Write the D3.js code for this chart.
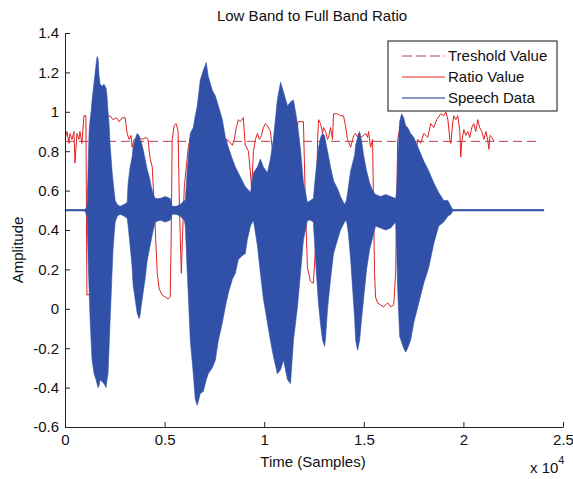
<!DOCTYPE html>
<html><head><meta charset="utf-8">
<script src="https://cdn.jsdelivr.net/npm/d3@7"></script>
<style>body{margin:0;background:#fff}svg text{font-family:"Liberation Sans",Arial,sans-serif}</style>
</head><body>
<svg id="c" width="573" height="479"></svg>
<script>
// ---- data ----
const titleText = "Low Band to Full Band Ratio";
const xLabel = "Time (Samples)";
const yLabel = "Amplitude";
const xTicks = [0, 5000, 10000, 15000, 20000, 25000];
const xTickLabels = ["0", "0.5", "1", "1.5", "2", "2.5"];
const yTicks = [-0.6, -0.4, -0.2, 0, 0.2, 0.4, 0.6, 0.8, 1.0, 1.2, 1.4];
const yTickLabels = ["-0.6", "-0.4", "-0.2", "0", "0.2", "0.4", "0.6", "0.8", "1", "1.2", "1.4"];
const legendNames = ["Treshold Value", "Ratio Value", "Speech Data"];

// speech envelope (sample index, upper, lower)
const speechT = [0,1000,1110,1160,1210,1260,1310,1360,1460,1560,1610,1660,1710,1760,1860,1960,2060,2110,2160,2210,2260,2310,2360,2410,2460,2520,2620,2770,2970,3120,3170,3270,3370,3420,3520,3620,3720,3770,3820,3920,4020,4120,4230,4330,4430,4530,4780,5030,5280,5380,5580,5790,5990,6040,6140,6290,6440,6540,6640,6790,6940,7090,7190,7390,7550,7700,7900,8050,8200,8400,8550,8700,8900,9050,9150,9310,9460,9660,9810,9960,10160,10310,10460,10660,10820,10970,11170,11320,11470,11670,11820,11970,12170,12320,12470,12520,12620,12730,12830,12930,13030,13080,13180,13330,13480,13680,13830,14030,14130,14230,14340,14440,14540,14590,14690,14790,14890,14990,15140,15290,15440,15590,15840,16100,16350,16600,16650,16700,16800,16900,17000,17100,17200,17350,17510,17760,18010,18260,18510,18760,19010,19220,19370,19470,24040];
const speechUpper = [0.503,0.503,0.52,0.72,0.90,0.96,1.0,1.06,1.15,1.24,1.28,1.27,1.18,1.14,1.13,1.14,1.12,1.08,1.0,0.94,0.84,0.77,0.70,0.65,0.60,0.55,0.53,0.52,0.53,0.54,0.64,0.72,0.77,0.82,0.86,0.89,0.88,0.86,0.85,0.81,0.76,0.71,0.67,0.62,0.58,0.56,0.56,0.57,0.56,0.52,0.52,0.53,0.55,0.55,0.71,0.89,0.92,0.98,1.03,1.16,1.21,1.25,1.18,1.11,1.08,1.03,0.96,0.87,0.82,0.76,0.72,0.69,0.65,0.62,0.61,0.59,0.69,0.72,0.76,0.72,0.69,0.76,0.86,1.06,1.15,1.10,1.03,1.05,1.06,0.94,0.81,0.64,0.54,0.55,0.56,0.62,0.72,0.82,0.87,0.89,0.88,0.85,0.80,0.72,0.65,0.61,0.57,0.53,0.55,0.62,0.70,0.74,0.78,0.83,0.87,0.90,0.85,0.78,0.70,0.64,0.60,0.58,0.57,0.58,0.57,0.56,0.60,0.75,0.95,0.99,0.97,0.93,0.92,0.89,0.87,0.81,0.75,0.70,0.64,0.59,0.55,0.55,0.52,0.503,0.503];
const speechLower = [0.497,0.497,0.47,0.25,0.10,-0.05,-0.16,-0.26,-0.33,-0.36,-0.38,-0.40,-0.39,-0.36,-0.37,-0.38,-0.40,-0.36,-0.33,-0.20,-0.07,0.05,0.18,0.30,0.37,0.44,0.47,0.48,0.47,0.46,0.42,0.32,0.21,0.12,0.05,-0.02,-0.05,-0.03,0.01,0.08,0.15,0.24,0.30,0.35,0.40,0.44,0.45,0.44,0.45,0.48,0.48,0.47,0.45,0.42,0.18,-0.16,-0.33,-0.46,-0.49,-0.43,-0.42,-0.36,-0.33,-0.30,-0.26,-0.16,-0.07,0.01,0.08,0.15,0.18,0.25,0.27,0.28,0.35,0.42,0.45,0.32,0.18,0.05,-0.07,-0.16,-0.24,-0.33,-0.31,-0.26,-0.36,-0.38,-0.16,0.01,0.18,0.35,0.45,0.45,0.44,0.35,0.18,0.02,-0.08,-0.16,-0.19,-0.15,0.0,0.15,0.28,0.35,0.40,0.44,0.45,0.38,0.25,0.10,-0.05,-0.16,-0.21,-0.16,-0.05,0.05,0.20,0.30,0.36,0.42,0.41,0.40,0.41,0.44,0.30,0.10,-0.14,-0.17,-0.20,-0.22,-0.20,-0.16,-0.07,0.03,0.13,0.21,0.33,0.42,0.44,0.47,0.48,0.497,0.497];
const speechBaseline = 0.5;

// low band / full band ratio
const ratioT = [0,100,200,250,350,450,500,600,700,750,850,950,1050,1100,1500,1900,2100,2260,2410,2570,2720,2870,3020,3120,3220,3320,3370,3470,3670,3870,4070,4170,4230,4280,4380,4480,4630,4730,4880,5030,5180,5280,5330,5380,5480,5580,5680,5730,5790,5840,5890,5990,6090,6190,6290,6440,6640,6940,7190,7440,7650,7900,8150,8400,8500,8600,8700,8800,8950,9050,9210,9310,9360,9410,9460,9560,9660,9760,9860,9960,10060,10160,10310,10410,10560,10820,11070,11320,11570,11720,11970,12070,12170,12320,12470,12570,12620,12680,12730,12830,12930,12980,13080,13180,13230,13330,13430,13480,13680,13830,13980,14080,14180,14230,14340,14440,14490,14590,14690,14740,14840,14990,15090,15190,15240,15340,15440,15490,15540,15590,15690,15840,15990,16200,16350,16500,16600,16650,16700,16850,17050,17250,17450,17600,17710,17860,18010,18210,18360,18510,18660,18860,19010,19120,19220,19320,19370,19470,19520,19620,19720,19820,19870,19920,20020,20120,20220,20320,20420,20520,20620,20720,20820,20920,21030,21130,21230,21280,21330,21430,21530];
const ratioV = [0.86,0.90,0.84,0.89,0.86,0.90,0.74,0.89,0.86,0.90,0.84,0.98,0.98,0.07,0.08,0.10,0.97,0.98,0.96,0.97,0.95,0.97,0.97,0.89,0.86,0.88,0.82,0.86,0.87,0.86,0.87,0.86,0.80,0.76,0.72,0.52,0.18,0.10,0.07,0.06,0.05,0.06,0.35,0.86,0.93,0.94,0.90,0.59,0.35,0.18,0.35,0.62,0.72,0.82,0.87,0.90,0.91,0.91,0.90,0.91,0.88,0.86,0.86,0.83,0.86,0.92,0.96,0.95,0.97,0.83,0.80,0.69,0.62,0.69,0.80,0.86,0.89,0.86,0.88,0.92,0.94,0.93,0.90,0.81,0.84,0.86,0.88,0.86,0.90,0.95,0.95,0.52,0.21,0.14,0.13,0.30,0.50,0.86,0.96,0.94,0.89,0.92,0.90,0.86,0.87,0.92,0.86,0.99,0.99,0.98,0.98,0.93,0.86,0.85,0.82,0.86,0.88,0.89,0.87,0.89,0.87,0.88,0.89,0.87,0.90,0.82,0.86,0.52,0.18,0.06,0.03,0.02,0.01,0.03,0.01,0.02,0.18,0.52,0.86,0.94,0.92,0.88,0.82,0.77,0.86,0.84,0.89,0.87,0.94,0.92,0.96,0.99,0.98,1.00,0.96,0.86,0.84,0.95,0.98,0.96,0.98,0.90,0.77,0.85,0.91,0.88,0.90,0.87,0.92,0.94,0.90,0.96,0.92,0.90,0.86,0.90,0.85,0.81,0.88,0.87,0.85];

const thresholdValue = 0.85;
const thresholdT = [0, 23750];
const speechBaselineT = [0, 24040];

// ---- drawing ----
const svg = d3.select("#c");
const x = d3.scaleLinear().domain([0, 25000]).range([65, 563]);
const y = d3.scaleLinear().domain([-0.6, 1.4]).range([427, 33]);
const FS = 15;
const cThr = "#b8404c", cRatio = "#e02222", cSpeech = "#3150a8", cBase = "#1f2a8c";

// threshold
svg.append("path")
  .attr("d", d3.line()([[x(thresholdT[0]), y(thresholdValue)], [x(thresholdT[1]), y(thresholdValue)]]))
  .attr("stroke", cThr).attr("stroke-width", 1).attr("stroke-dasharray", "9,5").attr("fill", "none");

// ratio
const ratioData = ratioT.map((t, i) => [t, ratioV[i]]);
svg.append("path").datum(ratioData)
  .attr("d", d3.line().x(d => x(d[0])).y(d => y(d[1])))
  .attr("stroke", cRatio).attr("stroke-width", 1).attr("fill", "none").attr("stroke-linejoin", "round");

// speech baseline
svg.append("path")
  .attr("d", d3.line()([[x(speechBaselineT[0]), y(speechBaseline)], [x(speechBaselineT[1]), y(speechBaseline)]]))
  .attr("stroke", cBase).attr("stroke-width", 1.5).attr("fill", "none");

// speech envelope
const speechData = speechT.map((t, i) => ({ t, u: speechUpper[i], l: speechLower[i] }));
svg.append("path").datum(speechData)
  .attr("d", d3.area().x(d => x(d.t)).y0(d => y(d.l)).y1(d => y(d.u)))
  .attr("fill", cSpeech).attr("stroke", cSpeech).attr("stroke-width", 0.6);

// axes
const xAxis = d3.axisBottom(x).tickValues(xTicks).tickFormat((d, i) => xTickLabels[i])
  .tickSizeInner(-5).tickSizeOuter(0).tickPadding(7);
const gx = svg.append("g").attr("transform", "translate(0,427)").call(xAxis);
const yAxis = d3.axisLeft(y).tickValues(yTicks).tickFormat((d, i) => yTickLabels[i])
  .tickSizeInner(-5).tickSizeOuter(0).tickPadding(6);
const gy = svg.append("g").attr("transform", "translate(65,0)").call(yAxis);
[gx, gy].forEach(g => {
  g.select(".domain").attr("stroke", "#222");
  g.selectAll(".tick line").attr("stroke", "#222");
  g.selectAll(".tick text").attr("fill", "#111").style("font-size", FS + "px")
    .style("font-family", '"Liberation Sans",Arial,sans-serif');
});

// title and labels
svg.append("text").attr("x", 312).attr("y", 21).attr("text-anchor", "middle")
  .style("font-size", FS + "px").attr("fill", "#111").text(titleText);
svg.append("text").attr("x", 313).attr("y", 467).attr("text-anchor", "middle")
  .style("font-size", FS + "px").attr("fill", "#111").text(xLabel);
svg.append("text").attr("transform", "translate(23,250) rotate(-90)").attr("text-anchor", "middle")
  .style("font-size", FS + "px").attr("fill", "#111").text(yLabel);
const expo = svg.append("text").attr("x", 530).attr("y", 473).style("font-size", FS + "px").attr("fill", "#111");
expo.append("tspan").text("x 10");
expo.append("tspan").attr("dy", -9).style("font-size", "11px").text("4");

// legend
const lg = svg.append("g");
lg.append("rect").attr("x", 388).attr("y", 41).attr("width", 169).attr("height", 70)
  .attr("fill", "#fff").attr("stroke", "#111").attr("stroke-width", 1);
const rowsY = [56, 77, 98];
const styles = [
  { c: cThr, dash: "10,4" },
  { c: cRatio, dash: null },
  { c: cBase, dash: null }
];
legendNames.forEach((name, i) => {
  const ln = lg.append("line").attr("x1", 402).attr("x2", 445).attr("y1", rowsY[i]).attr("y2", rowsY[i])
    .attr("stroke", styles[i].c).attr("stroke-width", 1);
  if (styles[i].dash) ln.attr("stroke-dasharray", styles[i].dash);
  lg.append("text").attr("x", 448).attr("y", rowsY[i]).attr("dy", "0.35em")
    .style("font-size", FS + "px").attr("fill", "#111").text(name);
});
</script>
</body></html>
